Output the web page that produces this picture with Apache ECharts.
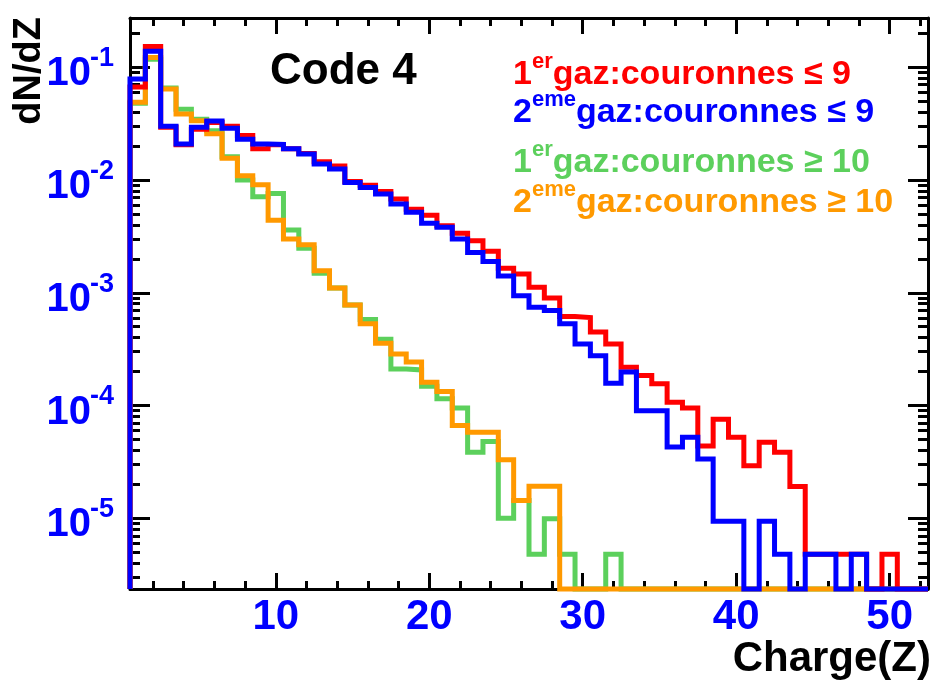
<!DOCTYPE html>
<html><head><meta charset="utf-8">
<script src="https://cdn.jsdelivr.net/npm/echarts@6/dist/echarts.min.js"></script>
<style>html,body{margin:0;padding:0;background:#fff}#c{width:935px;height:684px}</style>
</head><body><div id="c"></div>
<script>
// ---- data (bin centres Z, values dN/dZ) ----
const charges = [1,2,3,4,5,6,7,8,9,10,11,12,13,14,15,16,17,18,19,20,21,22,23,24,25,26,
                 27,28,29,30,31,32,33,34,35,36,37,38,39,40,41,42,43,44,45,46,47,48,49,50,51,52];
const red1erLe9 = [0.067,0.153,0.0294,0.0205,0.0282,0.0323,0.0300,0.0248,0.0189,0.0205,
  0.0189,0.0172,0.0145,0.0133,0.0097,0.0090,0.0079,0.0068,0.0055,0.00488,
  0.00394,0.00337,0.0029,0.00234,0.00165,0.00147,0.00112,0.00090,0.000615,0.000603,
  0.000448,0.000352,0.000219,0.000185,0.000156,0.000107,0.000095,0.0000437,0.0000757,0.0000524,
  0.0000293,0.0000473,0.0000386,0.0000191,0.0000048,0.0000048,0.0000048,0.0000048,0,0.0000048,0,0];
const blue2emeLe9 = [0.0787,0.139,0.030,0.0209,0.0294,0.0334,0.0288,0.0230,0.0209,0.0207,
  0.0189,0.0170,0.0139,0.0125,0.0095,0.0086,0.0075,0.00614,0.00519,0.00414,
  0.00382,0.0030,0.00228,0.00189,0.00141,0.00094,0.000745,0.000695,0.00053,0.000352,
  0.000276,0.000158,0.000198,0.000090,0.000090,0.0000428,0.0000524,0.0000335,0.0000094,0.0000094,
  0,0.0000094,0.0000048,0,0.0000048,0.0000048,0,0.0000048,0,0,0,0];
const green1erGe10 = [0.048,0.118,0.0655,0.0425,0.0346,0.0274,0.0161,0.0100,0.0071,0.0076,
  0.0036,0.00248,0.00149,0.0011,0.00078,0.00058,0.000388,0.000211,0.000207,0.000148,
  0.000115,0.000095,0.0000386,0.000048,0.0000100,0.0000144,0.0000048,0.0000099,0.0000048,0,
  0,0.0000048,0,0,0,0,0,0,0,0,0,0,0,0,0,0,0,0,0,0,0,0];
const orange2emeGe10 = [0.049,0.122,0.064,0.0385,0.0336,0.0257,0.0156,0.0109,0.0091,0.0044,
  0.0030,0.00267,0.00157,0.0011,0.00078,0.00053,0.000357,0.000287,0.000243,0.000161,
  0.000133,0.0000665,0.000058,0.000058,0.000033,0.0000144,0.0000192,0.0000192,0,0,
  0,0,0,0,0,0,0,0,0,0,0,0,0,0,0,0,0,0,0,0,0,0];
const xMajorTicks = [10,20,30,40,50];
const xMinorTicks = [2,4,6,8,12,14,16,18,22,24,26,28,32,34,36,38,42,44,46,48,52];
const yMajorTicks = [1e-5,1e-4,1e-3,1e-2,1e-1];
const yTickExponents = ['-5','-4','-3','-2','-1'];
const legendLines = [
  {num:'1', sup:'er',  rest:'gaz:couronnes \u2264 9',  color:'#ff0000'},
  {num:'2', sup:'eme', rest:'gaz:couronnes \u2264 9',  color:'#0000ff'},
  {num:'1', sup:'er',  rest:'gaz:couronnes \u2265 10', color:'#5cd05c'},
  {num:'2', sup:'eme', rest:'gaz:couronnes \u2265 10', color:'#ff9900'}
];

// ---- layout / style ----
const F = '"Liberation Sans", Arial, Helvetica, sans-serif';
const X_MIN = 0.5, X_MAX = 52.5;
const Y_MIN = 2.36e-6, Y_MAX = 0.2735;
const yMinorTicks = [];
for (let e = -6; e <= -1; e++) for (let m = 2; m <= 9; m++) {
  const v = m * Math.pow(10, e);
  if (v > Y_MIN && v < Y_MAX) yMinorTicks.push(v);
}

function steps(vals) {
  const pts = [[charges[0] - 0.5, Y_MIN]];
  vals.forEach((v, i) => {
    const y = v > 0 ? v : Y_MIN;
    pts.push([charges[i] - 0.5, y], [charges[i] + 0.5, y]);
  });
  pts.push([charges[charges.length - 1] + 0.5, Y_MIN]);
  return pts;
}
function histSeries(vals, color, z) {
  return {type:'line', data:steps(vals), xAxisIndex:0, yAxisIndex:0, showSymbol:false, symbol:'none',
    clip:false, silent:true, z:z, lineStyle:{color:color, width:5, join:'miter', cap:'butt'}};
}

const lineBlack = {color:'#000', width:3};
const baseX = {type:'value', min:X_MIN, max:X_MAX, splitLine:{show:false},
  axisLabel:{show:false}, axisLine:{show:false}, axisTick:{show:false}};
const baseY = {type:'log', logBase:10, min:Y_MIN, max:Y_MAX, splitLine:{show:false},
  axisLabel:{show:false}, axisLine:{show:false}, axisTick:{show:false}, minorTick:{show:false}};

const legendEls = legendLines.map((l, i) => ({
  type:'text', x:513, y:[58,96,146,186][i], z:50,
  style:{
    text:'{m|' + l.num + '}{s|' + l.sup + '}{m|' + l.rest + '}',
    align:'left', verticalAlign:'top',
    rich:{
      m:{fontSize:34, fontWeight:'bold', fontFamily:F, fill:l.color, lineHeight:34, verticalAlign:'bottom'},
      s:{fontSize:22, fontWeight:'bold', fontFamily:F, fill:l.color, lineHeight:22, padding:[0,0,19,0], verticalAlign:'bottom'}
    }
  }
}));

const chart = echarts.init(document.getElementById('c'), null, {renderer:'canvas'});
chart.setOption({
  animation:false,
  backgroundColor:'#fff',
  grid:{left:130, right:7, top:18, bottom:95, containLabel:false, outerBoundsMode:'none'},
  xAxis:[
    Object.assign({}, baseX, {position:'bottom',
      axisLine:{show:true, lineStyle:lineBlack},
      axisTick:{show:true, inside:true, length:16, customValues:xMajorTicks, lineStyle:lineBlack},
      axisLabel:{show:true, customValues:xMajorTicks, margin:7, color:'#0000ff', fontSize:42,
                 fontWeight:'bold', fontFamily:F}}),
    Object.assign({}, baseX, {position:'bottom',
      axisTick:{show:true, inside:true, length:8, customValues:xMinorTicks, lineStyle:lineBlack}}),
    Object.assign({}, baseX, {position:'top',
      axisLine:{show:true, lineStyle:lineBlack},
      axisTick:{show:true, inside:true, length:16, customValues:xMajorTicks, lineStyle:lineBlack}}),
    Object.assign({}, baseX, {position:'top',
      axisTick:{show:true, inside:true, length:8, customValues:xMinorTicks, lineStyle:lineBlack}})
  ],
  yAxis:[
    Object.assign({}, baseY, {position:'left',
      axisLine:{show:true, lineStyle:lineBlack},
      axisTick:{show:true, inside:true, length:20, customValues:yMajorTicks, lineStyle:lineBlack}}),
    Object.assign({}, baseY, {position:'left',
      axisTick:{show:true, inside:true, length:10, customValues:yMinorTicks, lineStyle:lineBlack}}),
    Object.assign({}, baseY, {position:'right',
      axisLine:{show:true, lineStyle:lineBlack},
      axisTick:{show:true, inside:true, length:20, customValues:yMajorTicks, lineStyle:lineBlack}}),
    Object.assign({}, baseY, {position:'right',
      axisTick:{show:true, inside:true, length:10, customValues:yMinorTicks, lineStyle:lineBlack}})
  ],
  series:[
    histSeries(green1erGe10, '#5cd05c', 2),
    histSeries(orange2emeGe10, '#ff9900', 3),
    histSeries(red1erLe9, '#ff0000', 4),
    histSeries(blue2emeLe9, '#0000ff', 5)
  ]
});

// y tick labels 10^n placed at the log axis positions given by the chart itself
const yLabelEls = [];
yMajorTicks.forEach((v, i) => {
  const py = chart.convertToPixel({yAxisIndex:0}, v);
  yLabelEls.push({type:'text', x:91, y:py - 13, z:50,
    style:{text:'10', font:'bold 40px ' + F, fill:'#0000ff', align:'right', verticalAlign:'top'}});
  yLabelEls.push({type:'text', x:114, y:py - 22, z:50,
    style:{text:yTickExponents[i], font:'bold 27px ' + F, fill:'#0000ff', align:'right', verticalAlign:'top'}});
});

chart.setOption({
  graphic:{elements:[
    {type:'text', x:30, y:17, rotation:Math.PI/2, z:50,
     style:{text:'dN/dZ', font:'bold 38px ' + F, fill:'#000', align:'right', verticalAlign:'middle'}},
    {type:'text', x:931, y:638, z:50,
     style:{text:'Charge(Z)', font:'bold 42px ' + F, fill:'#000', align:'right', verticalAlign:'top'}},
    {type:'text', x:270, y:50, z:50,
     style:{text:'Code 4', font:'bold 44px ' + F, fill:'#000', align:'left', verticalAlign:'top'}}
  ].concat(legendEls, yLabelEls)}
});
</script>
</body></html>
